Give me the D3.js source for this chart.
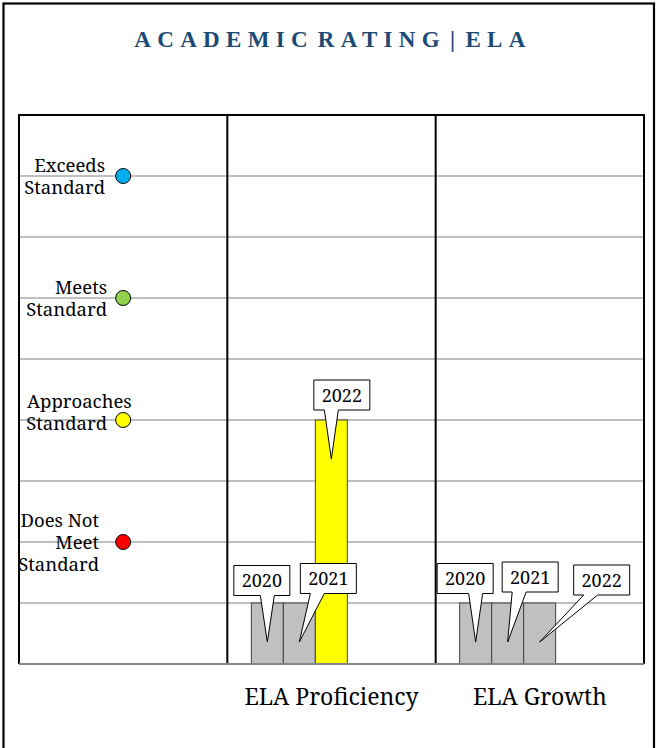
<!DOCTYPE html>
<html lang="en">
<head>
<meta charset="utf-8">
<title>Academic Rating | ELA</title>
<script src="https://cdn.jsdelivr.net/npm/d3@7"></script>
<style>
  body { margin: 0; background: #fff; }
  svg { display: block; }
</style>
</head>
<body>
<script>

// Size of the page
var w = 657;
var h = 748;
var serif = "'Noto Serif', 'Liberation Serif', serif";

// Columns along the x axis (the first one holds the rating legend)
var categories = ["", "ELA Proficiency", "ELA Growth"];
var years = ["2020", "2021", "2022"];

// Rating per year (1 = not rated, 2 = does not meet ... 8 = exceeds)
var proficiency = [1, 1, 4];
var growth = [1, 1, 1];

// Rating levels listed on the left
var levelValues = [2, 4, 6, 8];
var levelLines = [["Does Not", "Meet", "Standard"],
                  ["Approaches", "Standard"],
                  ["Meets", "Standard"],
                  ["Exceeds", "Standard"]];
var levelColors = ["#ff0000", "#ffff00", "#92d050", "#00b0f0"];

// Gridlines
var yTicks = [1, 2, 3, 4, 5, 6, 7, 8];

// Layout only: label nudges and callout box offsets (box centre from pointer tip)
var labelRight = [99, 107, 107, 105];
var labelShift = [1, -7, 1, 1];
var calloutShift = {
	"ELA Proficiency": [[-5.5, -61.5], [29, -63.5], [10.5, -64]],
	"ELA Growth": [[-10.5, -63.5], [22.5, -65], [62, -62]]
};

var plot = { left: 19, right: 644, top: 115, bottom: 664 };

var series = {
	"ELA Proficiency": proficiency,
	"ELA Growth": growth
};

// Scales
var xScale = d3.scaleBand()
		.domain(categories)
		.range([plot.left, plot.right]);

var yearScale = d3.scaleBand()
		.domain(years)
		.range([24, 120]);

var yScale = d3.scaleLinear()
		.domain([0, 9])
		.range([plot.bottom, plot.top]);

var barColor = function(v) {
	var i = levelValues.indexOf(v);
	return i >= 0 ? levelColors[i] : "#c0c0c0";
};

// SVG
var svg = d3.select("body")
		.append("svg")
		.attr("width", w)
		.attr("height", h);

svg.append("rect")
	.attr("width", w)
	.attr("height", h)
	.attr("fill", "#fff");

// Outer frame
svg.append("rect")
	.attr("x", 3.5)
	.attr("y", 3.5)
	.attr("width", 650.5)
	.attr("height", 800)
	.attr("fill", "none")
	.attr("stroke", "#000")
	.attr("stroke-width", 2.2);

// Title
svg.append("text")
	.attr("x", 333)
	.attr("y", 47)
	.attr("text-anchor", "middle")
	.style("font-family", "'Liberation Serif', serif")
	.style("font-size", "23px")
	.style("font-weight", "bold")
	.style("letter-spacing", "6.3px")
	.style("word-spacing", "-8px")
	.attr("fill", "#1b4a74")
	.text("ACADEMIC RATING | ELA");

// Gridlines
svg.selectAll("line.grid")
	.data(yTicks)
	.enter()
	.append("line")
	.attr("class", "grid")
	.attr("x1", plot.left)
	.attr("x2", plot.right)
	.attr("y1", function(d) { return yScale(d); })
	.attr("y2", function(d) { return yScale(d); })
	.attr("stroke", "#bfbfbf")
	.attr("stroke-width", 2);

// Bars
categories.slice(1).forEach(function(cat) {
	var x0 = xScale(cat);
	var vals = series[cat];

	svg.selectAll("rect.bar-" + categories.indexOf(cat))
		.data(vals)
		.enter()
		.append("rect")
		.attr("x", function(d, i) { return x0 + yearScale(years[i]); })
		.attr("y", function(d) { return yScale(d); })
		.attr("width", yearScale.bandwidth())
		.attr("height", function(d) { return yScale(0) - yScale(d); })
		.attr("fill", function(d) { return barColor(d); })
		.attr("stroke", "#404040")
		.attr("stroke-width", 1);
});

// Column dividers and plot border
svg.selectAll("line.divider")
	.data(categories.slice(1))
	.enter()
	.append("line")
	.attr("x1", function(d) { return xScale(d); })
	.attr("x2", function(d) { return xScale(d); })
	.attr("y1", plot.top)
	.attr("y2", plot.bottom)
	.attr("stroke", "#000")
	.attr("stroke-width", 2);

svg.append("path")
	.attr("d", "M" + plot.left + "," + plot.bottom + "V" + plot.top + "H" + plot.right + "V" + plot.bottom)
	.attr("fill", "none")
	.attr("stroke", "#000")
	.attr("stroke-width", 2);

svg.append("line")
	.attr("x1", plot.left)
	.attr("x2", plot.right)
	.attr("y1", plot.bottom)
	.attr("y2", plot.bottom)
	.attr("stroke", "#868686")
	.attr("stroke-width", 2);

// Year callouts
var boxW = 56, boxH = 30;
var calloutPath = function(tx, ty, cx, cy) {
	var x1 = cx - boxW / 2, x2 = cx + boxW / 2;
	var y1 = cy - boxH / 2, y2 = cy + boxH / 2;
	var bc = Math.max(x1 + 17, Math.min(x2 - 17, tx));
	return "M" + x1 + "," + y1 + "H" + x2 + "V" + y2 + "H" + (bc + 7) +
		"L" + tx + "," + ty + "L" + (bc - 7) + "," + y2 + "H" + x1 + "Z";
};

categories.slice(1).forEach(function(cat) {
	var x0 = xScale(cat);
	series[cat].forEach(function(v, i) {
		var tx = x0 + yearScale(years[i]) + yearScale.bandwidth() / 2;
		var ty = yScale(v) + 39;
		var cx = tx + calloutShift[cat][i][0];
		var cy = ty + calloutShift[cat][i][1];
		svg.append("path")
			.attr("d", calloutPath(tx, ty, cx, cy))
			.attr("fill", "#fff")
			.attr("stroke", "#000")
			.attr("stroke-width", 1);
		svg.append("text")
			.attr("x", cx)
			.attr("y", cy + 6.5)
			.attr("text-anchor", "middle")
			.style("font-family", serif)
			.style("font-size", "18px")
			.attr("fill", "#000")
			.text(years[i]);
	});
});

// Rating legend in the first column
var legendX = xScale(categories[0]) + xScale.bandwidth() / 2;

svg.selectAll("circle.level")
	.data(levelValues)
	.enter()
	.append("circle")
	.attr("cx", legendX)
	.attr("cy", function(d) { return yScale(d); })
	.attr("r", 7.5)
	.attr("fill", function(d, i) { return levelColors[i]; })
	.attr("stroke", "#000")
	.attr("stroke-width", 1);

levelValues.forEach(function(v, k) {
	var lines = levelLines[k];
	var first = yScale(v) + labelShift[k] - (lines.length - 1) * 11 + 6;
	var label = svg.append("text")
		.style("font-family", serif)
		.style("font-size", "18.5px")
		.attr("fill", "#000");
	lines.forEach(function(line, j) {
		var t = label.append("tspan")
			.attr("x", labelRight[k])
			.attr("y", first + j * 22)
			.attr("text-anchor", "end")
			.text(line);
		// words too wide for the label box start at its left edge
		if (t.node().getComputedTextLength() > 86) {
			t.attr("x", labelRight[k] - 80).attr("text-anchor", "start");
		}
	});
});

// Category axis
var xAxis = d3.axisBottom(xScale)
		.tickSize(0)
		.tickPadding(25);

var gx = svg.append("g")
	.attr("transform", "translate(0," + plot.bottom + ")")
	.call(xAxis);

gx.select(".domain").remove();
gx.selectAll("text")
	.style("font-family", serif)
	.style("font-size", "23px")
	.attr("fill", "#000");

</script>
</body>
</html>
